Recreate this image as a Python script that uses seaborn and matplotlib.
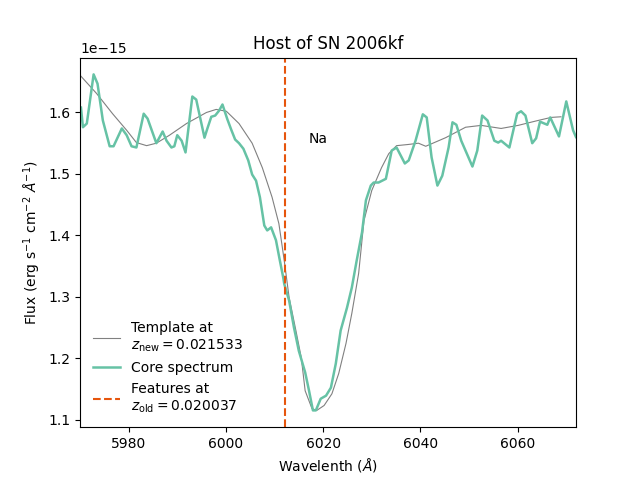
import numpy as np
import pandas as pd
import matplotlib
matplotlib.use("Agg")
import matplotlib.pyplot as plt
import seaborn as sns

# core spectrum (flux in units of 1e-15)
wave_core = [5970.2, 5970.6, 5971.4, 5972.8, 5973.6, 5974.7, 5976.1, 5976.9, 5978.6, 5979.6,
             5980.6, 5981.6, 5983.1, 5983.9, 5985.7, 5987.0, 5987.8, 5988.8, 5989.4, 5990.0,
             5990.9, 5991.7, 5993.1, 5993.9, 5995.6, 5996.2, 5997.0, 5997.8, 5998.6, 5999.3,
             6000.3, 6001.1, 6001.9, 6002.7, 6003.6, 6004.6, 6005.4, 6006.2, 6007.0, 6007.9,
             6008.5, 6009.3, 6010.3, 6011.1, 6011.8, 6012.0, 6013.0, 6014.0, 6015.0, 6016.3,
             6017.1, 6017.9, 6018.5, 6019.5, 6020.6, 6021.6, 6022.6, 6023.6, 6024.9, 6025.9,
             6026.9, 6028.0, 6028.8, 6029.8, 6030.4, 6031.4, 6032.9, 6034.1, 6035.1, 6036.8,
             6037.6, 6039.0, 6040.5, 6041.3, 6042.3, 6043.5, 6044.5, 6045.8, 6046.6, 6047.4,
             6048.4, 6050.7, 6051.7, 6052.7, 6053.8, 6055.2, 6056.0, 6056.6, 6058.3, 6059.9,
             6060.7, 6061.6, 6063.0, 6063.8, 6064.6, 6066.1, 6066.7, 6068.5, 6070.0, 6071.4,
             6072.0]
flux_core = [1.608, 1.576, 1.582, 1.662, 1.647, 1.587, 1.545, 1.545, 1.574, 1.563,
             1.545, 1.543, 1.598, 1.590, 1.550, 1.569, 1.554, 1.543, 1.545, 1.563,
             1.554, 1.535, 1.626, 1.621, 1.559, 1.574, 1.593, 1.595, 1.603, 1.613,
             1.589, 1.572, 1.556, 1.550, 1.541, 1.522, 1.499, 1.489, 1.462, 1.416,
             1.408, 1.413, 1.392, 1.359, 1.331, 1.321, 1.294, 1.250, 1.212, 1.177,
             1.147, 1.115, 1.115, 1.134, 1.139, 1.152, 1.191, 1.245, 1.282, 1.315,
             1.359, 1.405, 1.457, 1.481, 1.486, 1.486, 1.492, 1.538, 1.543, 1.517,
             1.522, 1.554, 1.597, 1.592, 1.527, 1.481, 1.497, 1.543, 1.584, 1.580,
             1.554, 1.512, 1.538, 1.595, 1.587, 1.554, 1.551, 1.554, 1.543, 1.598,
             1.602, 1.595, 1.550, 1.558, 1.585, 1.580, 1.592, 1.561, 1.618, 1.571,
             1.560]

# template spectrum
wave_tmpl = [5970.2, 5973.4, 5976.7, 5979.6, 5981.6, 5983.7, 5985.7, 5988.4, 5991.9, 5996.0,
             5998.0, 6000.1, 6002.7, 6005.4, 6007.5, 6009.5, 6010.9, 6012.0, 6013.0, 6014.4,
             6015.5, 6016.3, 6017.7, 6018.7, 6020.2, 6021.8, 6023.2, 6024.7, 6025.9, 6027.3,
             6028.4, 6030.0, 6032.0, 6033.5, 6035.1, 6037.6, 6039.6, 6041.1, 6045.2, 6049.3,
             6052.5, 6056.6, 6060.1, 6064.2, 6066.9, 6068.9]
flux_tmpl = [1.659, 1.631, 1.598, 1.571, 1.551, 1.546, 1.550, 1.563, 1.582, 1.600,
             1.605, 1.602, 1.582, 1.550, 1.510, 1.462, 1.419, 1.359, 1.299, 1.245,
             1.201, 1.147, 1.118, 1.115, 1.123, 1.142, 1.175, 1.224, 1.273, 1.338,
             1.424, 1.473, 1.510, 1.533, 1.546, 1.548, 1.550, 1.545, 1.559, 1.576,
             1.579, 1.574, 1.579, 1.587, 1.592, 1.593]

z_new = 0.021533
z_old = 0.020037
na_line = 6012.2

df_core = pd.DataFrame({"wave": wave_core, "flux": np.array(flux_core) * 1e-15})
df_tmpl = pd.DataFrame({"wave": wave_tmpl, "flux": np.array(flux_tmpl) * 1e-15})

fig, ax = plt.subplots(figsize=(6.4, 4.8), dpi=100)
sns.lineplot(data=df_tmpl, x="wave", y="flux", ax=ax, color="gray", lw=0.8,
             label="Template at\n$z_{\\rm new}=%.6f$" % z_new, sort=False)
sns.lineplot(data=df_core, x="wave", y="flux", ax=ax, color="#66c2a5", lw=1.8,
             label="Core spectrum", sort=False)
ax.axvline(na_line, color="#e6550d", ls="--", lw=1.5,
           label="Features at\n$z_{\\rm old}=%.6f$" % z_old)
ax.text(6017, 1.55e-15, "Na")

ax.set_xlim(5970, 6072)
ax.set_title("Host of SN 2006kf")
ax.set_xlabel("Wavelenth ($\\AA$)")
ax.set_ylabel("Flux (erg s$^{-1}$ cm$^{-2}$ $\\AA^{-1}$)")
ax.legend(loc="lower left", frameon=False)

plt.savefig("out.png")
